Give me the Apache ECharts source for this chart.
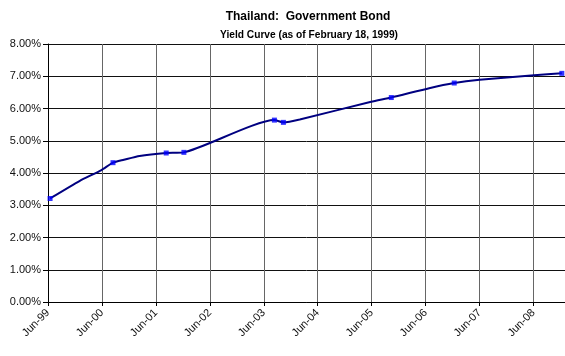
<!DOCTYPE html>
<html>
<head>
<meta charset="utf-8">
<script src="https://cdn.jsdelivr.net/npm/echarts@6/dist/echarts.min.js"></script>
<style>
html,body{margin:0;padding:0;background:#fff;}
#c{width:565px;height:356px;}
</style>
</head>
<body>
<div id="c"></div>
<script>
var titleText = 'Thailand:  Government Bond';
var subtitleText = 'Yield Curve (as of February 18, 1999)';

// Smoothed yield curve (date, yield %)
var curveDates = ['1999-06-15','2000-01-01','2000-05-28','2000-08-15','2000-10-28','2001-02-12','2001-08-10','2001-12-08','2003-08-12','2003-10-12','2004-02-01','2005-05-28','2005-10-12','2006-06-25','2006-12-12','2007-06-01','2008-06-05','2008-12-10'];
var curveYields = [3.21,3.75,4.09,4.32,4.41,4.53,4.62,4.64,5.64,5.57,5.66,6.21,6.34,6.63,6.79,6.89,7.03,7.09];

// Bond points (markers)
var bondDates = ['1999-06-15','2000-08-15','2001-08-10','2001-12-08','2003-08-12','2003-10-12','2005-10-12','2006-12-12','2008-12-10'];
var bondYields = [3.21,4.32,4.62,4.64,5.64,5.57,6.34,6.79,7.09];

var yTicks = [0,1,2,3,4,5,6,7,8];

// months since Jun-1999
function monthsFrom(d){
  var p = d.split('-').map(Number);
  return (p[0]-1999)*12 + (p[1]-6) + (p[2]-1)/30.4;
}
function pairs(ds, vs){ return ds.map(function(d,i){ return [monthsFrom(d), vs[i]]; }); }

var chart = echarts.init(document.getElementById('c'), null, {renderer:'canvas'});
var font = '"Liberation Sans", Arial, sans-serif';
chart.setOption({
  animation:false,
  backgroundColor:'#fff',
  title:[
    {text:titleText, left:303, top:6, textAlign:'center',
     textStyle:{fontFamily:font, fontSize:12, fontWeight:'bold', color:'#000'}},
    {text:subtitleText, left:304, top:25, textAlign:'center',
     textStyle:{fontFamily:font, fontSize:10.2, fontWeight:'bold', color:'#000'}}
  ],
  grid:{left:48, right:0, top:44, bottom:54, containLabel:false},
  xAxis:{
    type:'value', min:0, max:115, interval:12,
    axisLine:{show:true, lineStyle:{color:'#000', width:1}},
    axisTick:{show:true, length:4, lineStyle:{color:'#000'}},
    splitLine:{show:true, lineStyle:{color:'#666', width:1}},
    axisLabel:{rotate:45, fontFamily:font, fontSize:11, color:'#111', margin:9,
      showMaxLabel:false,
      formatter:function(v){
        if (v % 12 !== 0) return '';
        var y = (99 + v/12) % 100;
        return 'Jun-' + (y<10?'0':'') + y;
      }}
  },
  yAxis:{
    type:'value', min:0, max:8, interval:1,
    axisLine:{show:true, lineStyle:{color:'#000', width:1}},
    axisTick:{show:true, length:5, lineStyle:{color:'#000'}},
    splitLine:{show:true, lineStyle:{color:'#111', width:1}},
    axisLabel:{fontFamily:font, fontSize:11, color:'#111', margin:7,
      formatter:function(v){ return v.toFixed(2)+'%'; }}
  },
  series:[
    {type:'line', data:pairs(curveDates, curveYields), smooth:0.2, showSymbol:false,
     lineStyle:{color:'#000080', width:2}, itemStyle:{color:'#000080'}, z:2},
    {type:'scatter', data:pairs(bondDates, bondYields), symbol:'rect', symbolSize:5,
     itemStyle:{color:'#0000FF'}, clip:false, z:3}
  ]
});
</script>
</body>
</html>
